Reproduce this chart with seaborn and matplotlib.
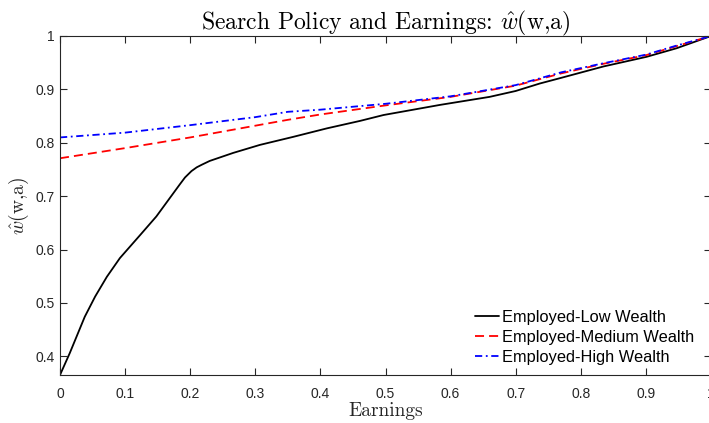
import matplotlib
matplotlib.use("Agg")
import matplotlib.pyplot as plt
import seaborn as sns
import pandas as pd
from matplotlib.ticker import FuncFormatter

# Search policy w_hat(w, a) by earnings, for three wealth levels
earn_low = [0.0, 0.015, 0.038, 0.054, 0.072, 0.092, 0.123, 0.148, 0.172, 0.184,
            0.192, 0.202, 0.21, 0.218, 0.23, 0.266, 0.307, 0.358, 0.41, 0.461,
            0.497, 0.584, 0.66, 0.70, 0.737, 0.768, 0.835, 0.901, 0.947, 1.0]
w_low = [0.365, 0.406, 0.474, 0.512, 0.549, 0.584, 0.627, 0.662, 0.702, 0.722,
         0.735, 0.747, 0.754, 0.759, 0.766, 0.781, 0.796, 0.811, 0.827, 0.841,
         0.852, 0.871, 0.886, 0.897, 0.911, 0.921, 0.943, 0.961, 0.977, 1.0]

earn_grid = [0.0, 0.1, 0.2, 0.3, 0.35, 0.4, 0.5, 0.6, 0.7, 0.77, 0.835, 0.9, 0.947, 1.0]
w_med = [0.771, 0.790, 0.810, 0.832, 0.843, 0.853, 0.870, 0.886, 0.907, 0.930,
         0.948, 0.964, 0.981, 1.0]
w_high = [0.810, 0.819, 0.833, 0.848, 0.858, 0.862, 0.873, 0.887, 0.908, 0.932,
          0.949, 0.965, 0.982, 1.0]

labels = ["Employed-Low Wealth", "Employed-Medium Wealth", "Employed-High Wealth"]
colors = ["black", "red", "blue"]
styles = ["-", (0, (5, 2.8)), (0, (4, 2, 1, 2))]

sns.set_theme(style="white")
plt.rcParams["font.family"] = ["Liberation Sans", "DejaVu Sans"]
plt.rcParams["mathtext.fontset"] = "cm"

fig = plt.figure(figsize=(7.09, 4.23), dpi=100)
ax = fig.add_axes([60 / 709, 1 - 375 / 423, 651 / 709, 339 / 423])

series = [(earn_low, w_low), (earn_grid, w_med), (earn_grid, w_high)]
for (x, y), lab, c, ls in zip(series, labels, colors, styles):
    df = pd.DataFrame({"Earnings": x, "w": y})
    sns.lineplot(data=df, x="Earnings", y="w", ax=ax, color=c, linestyle=ls,
                 linewidth=1.3, label=lab)

ax.set_xlim(0, 1)
ax.set_ylim(0.365, 1)
ax.set_xticks([0, 0.1, 0.2, 0.3, 0.4, 0.5, 0.6, 0.7, 0.8, 0.9, 1.0])
ax.set_yticks([0.4, 0.5, 0.6, 0.7, 0.8, 0.9, 1.0])
fmt = FuncFormatter(lambda v, p: f"{v:g}")
ax.xaxis.set_major_formatter(fmt)
ax.yaxis.set_major_formatter(fmt)

tick_col = "#262626"
for s in ax.spines.values():
    s.set_visible(True)
    s.set_color(tick_col)
    s.set_linewidth(0.8)
ax.tick_params(direction="in", length=5, width=0.8, color=tick_col,
               labelcolor=tick_col, labelsize=10, top=True, right=True,
               bottom=True, left=True)
ax.tick_params(axis="x", pad=8.5)
ax.tick_params(axis="y", pad=4)

serif = "cmr10"
ax.set_xlabel("Earnings", fontsize=14, color=tick_col, labelpad=1, family=serif)
ax.set_ylabel(r"$\hat{w}$(w,a)", fontsize=14, color=tick_col, labelpad=3, family=serif)
ax.set_title(r"Search Policy and Earnings: $\hat{w}$(w,a)",
             fontsize=17, color="black", pad=5, family=serif)

leg = ax.legend(loc="lower right", frameon=False, fontsize=11.8,
                handlelength=1.5, handletextpad=0.2, labelspacing=0.32,
                borderaxespad=0.2, bbox_to_anchor=(0.99, 0.0))
for t in leg.get_texts():
    t.set_color("black")

fig.savefig("out.png", dpi=100)
